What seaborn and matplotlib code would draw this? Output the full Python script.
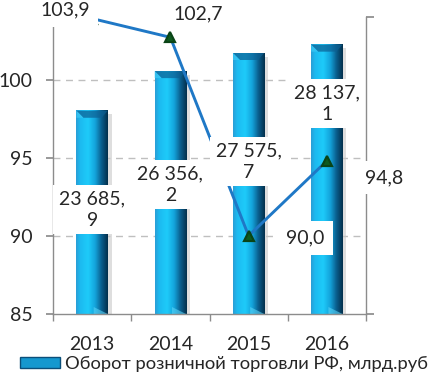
import numpy as np
import pandas as pd
import matplotlib
matplotlib.use("Agg")
import matplotlib.pyplot as plt
import matplotlib.transforms as mtransforms
from matplotlib.colors import LinearSegmentedColormap
from matplotlib.patches import Polygon, Rectangle, Patch
from matplotlib.lines import Line2D
import seaborn as sns

# ---- data ----
years = ["2013", "2014", "2015", "2016"]
turnover = [23685.9, 26356.2, 27575.7, 28137.1]      # млрд. руб (secondary axis)
index_pct = [103.9, 102.7, 90.0, 94.8]               # % (primary axis)
left_ticks = [85, 90, 95, 100]
legend_label = "Оборот розничной торговли РФ, млрд.руб"

# ---- layout (label placement) ----
bar_label_y = [91.67, 93.27, 94.74, 98.46]           # in primary-axis units
line_label_off = [(-19.5, 6), (20, 17), (41, -1.5), (41, -12)]  # points

sns.set_theme(style="white")
plt.rcParams["font.family"] = ["Lato", "Open Sans", "DejaVu Sans"]
TXT = "#262626"
GRID = "#BFBFBF"
AXC = "#8C8C8C"

fig = plt.figure(figsize=(4.36, 3.76), dpi=100)
ax = fig.add_axes([53 / 436, 62 / 376, 313 / 436, 297 / 376])

df = pd.DataFrame({"year": years, "turnover": turnover, "index": index_pct})

sns.barplot(data=df, x="year", y="turnover", ax=ax, width=0.4,
            color="#1CB8EE", saturation=1, zorder=2, errorbar=None)

ax2 = ax.twinx()

cmap = LinearSegmentedColormap.from_list(
    "bar3d",
    [(0.0, "#2A9ED6"), (0.12, "#1CBAF0"), (0.38, "#1ECBFA"),
     (0.6, "#14A4DC"), (0.8, "#0A5F8E"), (1.0, "#03304D")])
grad = np.linspace(0, 1, 64).reshape(1, -1)

ymin, ymax = 10000, 30000
bev = (ymax - ymin) * 7 / 297
for p in list(ax.patches):
    x0, w, h = p.get_x(), p.get_width(), p.get_height()
    # soft shadow
    ax.add_patch(Rectangle((x0 + w, ymin), 0.05, h - ymin - bev * 0.5,
                           facecolor="#C8C8C8", edgecolor="none", alpha=0.6, zorder=1.5))
    ax.imshow(grad, extent=(x0, x0 + w, ymin, h), aspect="auto", cmap=cmap,
              origin="lower", zorder=2.1, interpolation="bicubic")
    # top bevel
    ax.add_patch(Polygon([(x0, h), (x0 + w, h), (x0 + w * 0.8, h - bev),
                          (x0 + w * 0.22, h - bev)], closed=True,
                         facecolor="#0D5F92", edgecolor="none", alpha=0.7, zorder=2.2))
    ax.add_patch(Polygon([(x0, h), (x0 + w * 0.22, h - bev), (x0, h - bev)], closed=True,
                         facecolor="#38C6F3", edgecolor="none", alpha=0.8, zorder=2.2))
    # bottom bevel
    ax.add_patch(Polygon([(x0 + w * 0.55, ymin + bev), (x0 + w, ymin), (x0 + w * 0.55, ymin)],
                         closed=True, facecolor="#5AD4F8", edgecolor="none",
                         alpha=0.6, zorder=2.2))
    p.set_visible(False)

ax.set_ylim(ymin, ymax)
ax.set_xlim(-0.5, 3.5)

# line on primary axis
sns.pointplot(data=df, x="year", y="index", ax=ax2, color="#1F78C6",
              markers="^", errorbar=None, linewidth=2.1, markersize=7.5)
for ln in ax2.lines:
    ln.set_markerfacecolor("#0E5B1F")
    ln.set_markeredgecolor("#0A4416")
    ln.set_zorder(5)

ax2.set_ylim(85, 104)
ax2.set_xlim(-0.5, 3.5)
ax2.set_yticks(left_ticks)
ax2.set_yticklabels([str(t) for t in left_ticks])
ax2.yaxis.tick_left()
ax2.set_ylabel("")
ax2.set_xlabel("")
ax2.tick_params(axis="y", left=True, right=False, labelleft=True, labelright=False,
                length=5, color=AXC, labelsize=14, labelcolor=TXT, pad=9.5)

# gridlines (behind bars) in primary-axis units
blend = mtransforms.blended_transform_factory(ax.transAxes, ax2.transData)
for v in left_ticks[1:]:
    ax.add_artist(Line2D([0, 1], [v, v], transform=blend, color=GRID, lw=1.0,
                         ls=(0, (5, 4)), zorder=0.5))

# secondary axis (bars) on the right, unlabeled
ax.yaxis.tick_right()
ax.set_yticks([ymin, ymax])
ax.set_yticklabels([])
ax.set_ylabel("")
ax.set_xlabel("")
ax.tick_params(axis="y", left=False, right=True, labelleft=False, labelright=False,
               length=6, color=AXC)
ax.set_xticks(range(len(years)))
ax.set_xticklabels(years)
ax.set_xticks(np.arange(-0.5, len(years), 1), minor=True)
ax.tick_params(axis="x", which="major", length=0, labelsize=14, labelcolor=TXT, pad=16)
ax.tick_params(axis="x", which="minor", bottom=True, length=5, color=AXC, width=1)

for s in ["top", "left"]:
    ax.spines[s].set_visible(False)
for s in ["bottom", "right"]:
    ax.spines[s].set_color(AXC)
    ax.spines[s].set_linewidth(1)
for s in ["top", "bottom", "right"]:
    ax2.spines[s].set_visible(False)
ax2.spines["left"].set_color(AXC)
ax2.spines["left"].set_linewidth(1)


def fmt_bar(v):
    s = f"{v:,.1f}".replace(",", " ").replace(".", ",")
    return s.replace(",", ",\n")


def fmt_line(v):
    return f"{v:.1f}".replace(".", ",")


for i, (v, ly) in enumerate(zip(turnover, bar_label_y)):
    ax2.text(i, ly, fmt_bar(v), ha="center", va="center", fontsize=14, color=TXT,
             linespacing=1.3, zorder=20,
             bbox=dict(fc="white", ec="none", pad=4))

for i, (v, off) in enumerate(zip(index_pct, line_label_off)):
    ax2.annotate(fmt_line(v), xy=(i, v), xytext=off, textcoords="offset points",
                 ha="center", va="center", fontsize=14, color=TXT, zorder=21,
                 bbox=dict(fc="white", ec="none", pad=6))

handle = Patch(facecolor="#1598CF", edgecolor="#0B4F7A", linewidth=1)
fig.legend(handles=[handle], labels=[legend_label], loc="center left",
           bbox_to_anchor=(20 / 436, 1 - 364 / 376), frameon=False, fontsize=13.2,
           handlelength=2.2, handleheight=0.6, handletextpad=0.25,
           borderpad=0, borderaxespad=0, labelcolor=TXT)

fig.savefig("out.png", dpi=100)
